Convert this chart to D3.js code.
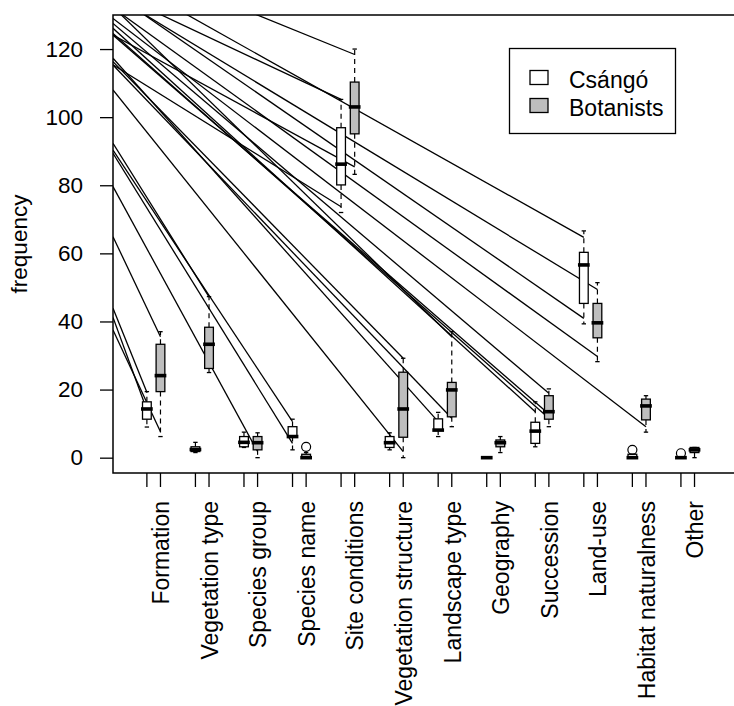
<!DOCTYPE html>
<html>
<head>
<meta charset="utf-8">
<script src="https://cdn.jsdelivr.net/npm/d3@7"></script>
<style>
  body { margin: 0; background: #fff; }
  svg { display: block; }
  text { font-family: "Liberation Sans", Arial, Helvetica, sans-serif; fill: #000; }
</style>
</head>
<body>
<div id="chart"></div>
<script>
// categories on the x axis
var categories = ["Formation", "Vegetation type", "Species group", "Species name",
  "Site conditions", "Vegetation structure", "Landscape type", "Geography",
  "Succession", "Land-use", "Habitat naturalness", "Other"];

var seriesNames = ["Csángó", "Botanists"];
var seriesFill = ["#ffffff", "#bebebe"];

// box stats: [lower whisker, Q1, median, Q3, upper whisker]
var csango = [
  [9, 11.3, 14.3, 16.4, 19.4],
  [1.5, 1.8, 2.4, 3.2, 4.5],
  [3, 3.2, 4.5, 6.2, 7.5],
  [2.3, 6.2, 6.2, 9.1, 11.3],
  [72, 80.1, 86.2, 96.9, 105.2],
  [2.3, 3, 4.4, 6.2, 7.3],
  [6.2, 8.1, 8.1, 11.4, 13.3],
  [0, 0, 0, 0, 0],
  [3.2, 4.2, 7.8, 10.4, 16.4],
  [39.3, 45.3, 56.6, 60.3, 66.6],
  [0, 0, 0, 1, 1],
  [0, 0, 0, 0, 0]
];
var botanists = [
  [6.2, 19.4, 24.1, 33.3, 37],
  [25, 26.2, 33.3, 38.3, 47.3],
  [0, 2.3, 4.4, 6.2, 7.3],
  [0, 0, 0, 1, 1.5],
  [83.2, 95.1, 103, 110.3, 120],
  [0, 6, 14.3, 25.1, 29.2],
  [9.1, 12, 19.9, 22.1, 37],
  [1.5, 3.2, 4.4, 5.2, 6.2],
  [9.1, 11.3, 13.5, 18.2, 20.2],
  [28.2, 35.2, 39.6, 45.3, 51.4],
  [7.5, 11.1, 15.2, 17.2, 18.2],
  [0, 1.5, 2.3, 3, 3]
];
// outliers: [group, series, value]
var outliers = [
  [3, 1, 3.2],
  [10, 0, 2.3],
  [11, 0, 1.3]
];

// stray lines: [value at left edge, group, series, end value]
var fanLines = [
  [43.9, 0, 0, 19.2], [41.2, 0, 0, 14.0], [37.5, 0, 1, 7.6], [64.9, 0, 1, 35.5],
  [79.6, 2, 1, 1.8], [92.3, 1, 1, 47.2], [90.3, 3, 0, 10.6], [89.4, 3, 0, 4.2],
  [108.0, 5, 1, 1.8], [116.3, 5, 1, 29.2], [117.3, 6, 0, 10.6], [115.3, 6, 1, 11.6],
  [124.6, 8, 1, 11.6], [124.1, 8, 1, 12.8], [126.1, 8, 0, 13.5], [127.5, 8, 1, 18.9],
  [129.0, 10, 1, 9.1], [132.4, 6, 1, 35.5], [132.1, 9, 1, 29.7], [136.4, 9, 0, 40.9],
  [135.8, 9, 1, 49.4], [142.3, 9, 0, 64.7], [136.7, 4, 0, 105.2], [147.2, 4, 1, 118.4],
  [115.4, 4, 0, 73.7], [124.1, 4, 1, 85.4]
];

var yTicks = [0, 20, 40, 60, 80, 100, 120];

var width = 734,
    height = 706,
    mLeft = 113, mTop = 15, mRight = 742, mBottom = 473;

var x = d3.scaleLinear().domain([0.5, 12.5]).range([129.4, 712]);
var y = d3.scaleLinear().domain([-4.5, 130]).range([mBottom, mTop]);

var offset = [-0.14, 0.14],
    boxW = 0.18;

var svg = d3.select("#chart").append("svg")
    .attr("width", width)
    .attr("height", height);

svg.append("clipPath").attr("id", "plotclip")
  .append("rect")
    .attr("x", mLeft).attr("y", mTop)
    .attr("width", mRight - mLeft).attr("height", mBottom - mTop);

function xpos(g, s) { return x(g + 1 + offset[s]); }

// stray lines, clipped to the plot region
var xLeft = x.invert(mLeft);
svg.append("g")
    .attr("clip-path", "url(#plotclip)")
  .selectAll("line")
  .data(fanLines)
  .enter().append("line")
    .attr("x1", x(xLeft))
    .attr("y1", d => y(d[0]))
    .attr("x2", d => xpos(d[1], d[2]))
    .attr("y2", d => y(d[3]))
    .attr("stroke", "#000")
    .attr("stroke-width", 1.3);

// boxes
var boxes = [];
categories.forEach(function(c, i) {
  boxes.push({g: i, s: 0, v: csango[i]});
  boxes.push({g: i, s: 1, v: botanists[i]});
});

var half = (x(1 + boxW) - x(1)) / 2;

var bx = svg.append("g").selectAll("g")
  .data(boxes)
  .enter().append("g")
    .attr("transform", d => "translate(" + xpos(d.g, d.s) + ",0)");

// whiskers
bx.append("line")
    .attr("y1", d => y(d.v[3])).attr("y2", d => y(d.v[4]))
    .attr("stroke", "#000").attr("stroke-width", 1.2)
    .attr("stroke-dasharray", "5,4");
bx.append("line")
    .attr("y1", d => y(d.v[1])).attr("y2", d => y(d.v[0]))
    .attr("stroke", "#000").attr("stroke-width", 1.2)
    .attr("stroke-dasharray", "5,4");
// staples
bx.selectAll(".staple")
  .data(d => [d.v[0], d.v[4]])
  .enter().append("line")
    .attr("class", "staple")
    .attr("x1", -half / 2).attr("x2", half / 2)
    .attr("y1", v => y(v)).attr("y2", v => y(v))
    .attr("stroke", "#000").attr("stroke-width", 1.3);
// box
bx.append("rect")
    .attr("x", -half)
    .attr("width", half * 2)
    .attr("y", d => y(d.v[3]))
    .attr("height", d => Math.max(0, y(d.v[1]) - y(d.v[3])))
    .attr("fill", d => seriesFill[d.s])
    .attr("stroke", "#000")
    .attr("stroke-width", 1.3);
// median
bx.append("line")
    .attr("x1", -half - 1.5).attr("x2", half + 1.5)
    .attr("y1", d => y(d.v[2])).attr("y2", d => y(d.v[2]))
    .attr("stroke", "#000").attr("stroke-width", 3.6);

// outliers
svg.append("g").selectAll("circle")
  .data(outliers)
  .enter().append("circle")
    .attr("cx", d => xpos(d[0], d[1]))
    .attr("cy", d => y(d[2]))
    .attr("r", 4.5)
    .attr("fill", "none")
    .attr("stroke", "#000")
    .attr("stroke-width", 1.2);

// frame
svg.append("path")
    .attr("d", "M" + mRight + "," + mTop + "H" + mLeft + "V" + mBottom + "H" + mRight)
    .attr("fill", "none")
    .attr("stroke", "#000")
    .attr("stroke-width", 1.5);

// y axis
var yAxis = svg.append("g")
    .attr("transform", "translate(" + mLeft + ",0)")
    .call(d3.axisLeft(y).tickValues(yTicks).tickSize(13).tickPadding(17));
yAxis.select(".domain").remove();
yAxis.selectAll(".tick line").attr("stroke-width", 1.3);
yAxis.selectAll(".tick text")
    .style("font-size", "22.5px")
    .style("font-family", "'Liberation Sans', Arial, sans-serif");

svg.append("text")
    .attr("transform", "translate(27," + (mTop + mBottom) / 2 + ") rotate(-90)")
    .attr("text-anchor", "middle")
    .style("font-size", "22.5px")
    .text("frequency");

// x ticks, one per box
svg.append("g").selectAll("line")
  .data(boxes)
  .enter().append("line")
    .attr("x1", d => xpos(d.g, d.s)).attr("x2", d => xpos(d.g, d.s))
    .attr("y1", mBottom).attr("y2", mBottom + 14)
    .attr("stroke", "#000").attr("stroke-width", 1.3);

// x labels, rotated
svg.append("g").selectAll("text")
  .data(categories)
  .enter().append("text")
    .attr("transform", (d, i) => "translate(" + xpos(i, 1) + ",501) rotate(-90)")
    .attr("text-anchor", "end")
    .attr("dy", "0.38em")
    .style("font-size", "23px")
    .text(d => d);

// legend
var lg = svg.append("g");
lg.append("rect")
    .attr("x", 509.5).attr("y", 48.5)
    .attr("width", 166).attr("height", 85)
    .attr("fill", "#fff").attr("stroke", "#000").attr("stroke-width", 1.3);
seriesNames.forEach(function(n, i) {
  lg.append("rect")
      .attr("x", 530).attr("y", 70.5 + i * 28)
      .attr("width", 18).attr("height", 14)
      .attr("fill", seriesFill[i]).attr("stroke", "#000").attr("stroke-width", 1.3);
  lg.append("text")
      .attr("x", 569).attr("y", 88 + i * 27.5)
      .style("font-size", "23px")
      .text(n);
});
</script>
</body>
</html>
